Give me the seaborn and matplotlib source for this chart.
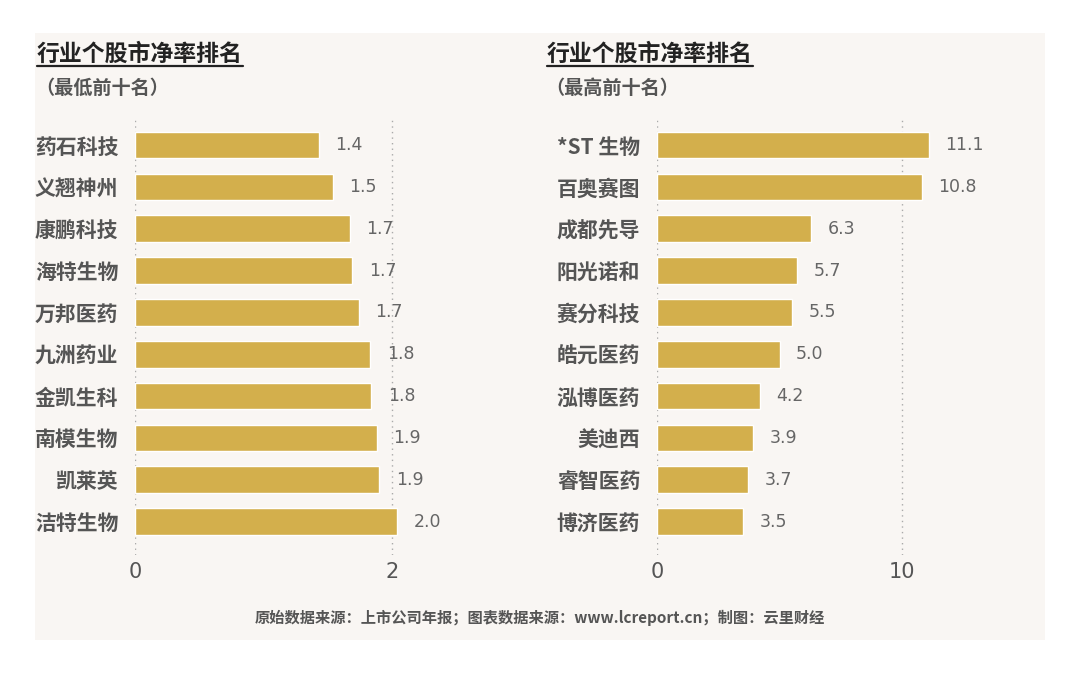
import matplotlib
matplotlib.use("Agg")
import matplotlib.pyplot as plt
from matplotlib.patches import Rectangle
from matplotlib.lines import Line2D
import seaborn as sns
import pandas as pd

sns.set_theme(style="white")
plt.rcParams["font.family"] = ["Noto Sans CJK SC", "DejaVu Sans"]

# 最低前十名
low_names = ["药石科技", "义翘神州", "康鹏科技", "海特生物", "万邦医药",
             "九洲药业", "金凯生科", "南模生物", "凯莱英", "洁特生物"]
low_values = [1.43, 1.54, 1.67, 1.69, 1.74, 1.83, 1.84, 1.88, 1.90, 2.04]

# 最高前十名
high_names = ["*ST 生物", "百奥赛图", "成都先导", "阳光诺和", "赛分科技",
              "皓元医药", "泓博医药", "美迪西", "睿智医药", "博济医药"]
high_values = [11.1, 10.8, 6.3, 5.7, 5.5, 5.0, 4.2, 3.9, 3.7, 3.5]

title = "行业个股市净率排名"
low_sub = "（最低前十名）"
high_sub = "（最高前十名）"
footer = "原始数据来源：上市公司年报；图表数据来源：www.lcreport.cn；制图：云里财经"

BAR = "#d3af4c"
W, H = 1080, 676

fig = plt.figure(figsize=(W / 100, H / 100), dpi=100)
fig.patch.set_facecolor("white")
fig.add_artist(Rectangle((35 / W, 1 - 640 / H), 1010 / W, 607 / H,
                         transform=fig.transFigure, facecolor="#f9f6f3",
                         edgecolor="none", zorder=0))


def draw_panel(rect, names, values, xlim, ticks):
    ax = fig.add_axes(rect)
    ax.set_facecolor("none")
    df = pd.DataFrame({"name": names, "value": values})
    sns.barplot(data=df, x="value", y="name", orient="h", color=BAR,
                saturation=1, width=0.64, ax=ax)
    ax.bar_label(ax.containers[0], labels=[f"{v:.1f}" for v in values],
                 padding=12, fontsize=12.5, color="#666666",
                 fontfamily="DejaVu Sans")
    ax.set_xlim(*xlim)
    ax.set_ylim(9.8, -0.6)
    ax.set_xticks(ticks)
    ax.set_xlabel("")
    ax.set_ylabel("")
    ax.grid(axis="x", linestyle=(0, (1, 3)), color="#aaaaaa", linewidth=1)
    ax.set_axisbelow(True)
    for s in ax.spines.values():
        s.set_visible(False)
    ax.tick_params(axis="x", length=0, pad=5, labelsize=15, labelcolor="#555555")
    ax.tick_params(axis="y", length=0, pad=12, labelsize=15, labelcolor="#555555")
    for lab in ax.get_xticklabels():
        lab.set_fontfamily("DejaVu Sans")
    for lab in ax.get_yticklabels():
        lab.set_fontweight("bold")
    return ax


ax_low = draw_panel([135 / W, 1 - 555 / H, 334 / W, 435 / H],
                    low_names, low_values, (0, 2.6), [0, 2])
ax_high = draw_panel([657 / W, 1 - 555 / H, 343 / W, 435 / H],
                     high_names, high_values, (0, 14), [0, 10])

titles = []
for x0, sub in [(37, low_sub), (547, high_sub)]:
    t = fig.text(x0 / W, 1 - 54 / H, title, ha="left", va="center",
                 fontsize=16.5, weight="bold", color="#222222")
    titles.append(t)
    fig.text((x0 - 2) / W, 1 - 88 / H, sub, ha="left", va="center",
             fontsize=13.8, weight="bold", color="#555555")

fig.text(0.5, 1 - 618 / H, footer, ha="center", va="center",
         fontsize=11, weight="bold", color="#555555")

# underline the titles
fig.canvas.draw()
renderer = fig.canvas.get_renderer()
for t in titles:
    bb = t.get_window_extent(renderer).transformed(fig.transFigure.inverted())
    fig.add_artist(Line2D([bb.x0, bb.x1], [1 - 66 / H, 1 - 66 / H],
                          transform=fig.transFigure, color="#222222",
                          linewidth=1.6))

fig.savefig("out.png", dpi=100)
